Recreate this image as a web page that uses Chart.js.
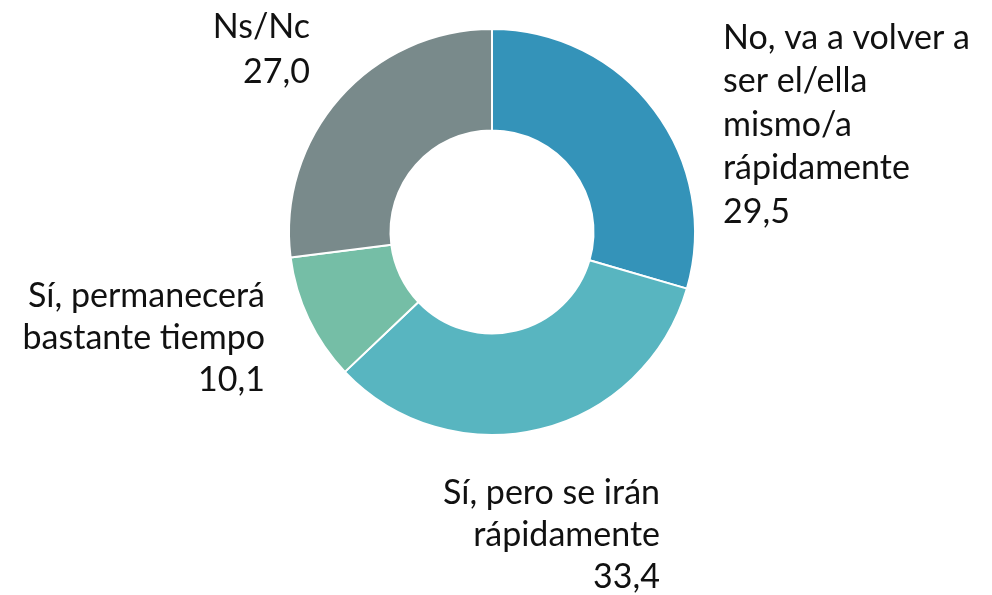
<!DOCTYPE html>
<html>
<head>
<meta charset="utf-8">
<script src="https://cdn.jsdelivr.net/npm/chart.js@4/dist/chart.umd.min.js"></script>
<style>
html,body{margin:0;padding:0;background:#fff;}
#wrap{width:992px;height:595px;position:relative;}
</style>
</head>
<body>
<div id="wrap"><canvas id="c" width="992" height="595"></canvas></div>
<script>
const categories = [
  ["No, va a volver a", "ser el/ella", "mismo/a", "rápidamente"],
  ["Sí, pero se irán", "rápidamente"],
  ["Sí, permanecerá", "bastante tiempo"],
  ["Ns/Nc"]
];
const values = [29.5, 33.4, 10.1, 27.0];
const valueLabels = ["29,5", "33,4", "10,1", "27,0"];
const colors = ["#3493b9", "#58b5c0", "#75bea6", "#798a8b"];

// label anchor placement (relative to chart centre), alignment per slice
const labelPlace = [
  {dx: 231, dy: -194, align: "left", lh: 43.5},
  {dx: 168, dy: 261, align: "right", lh: 42},
  {dx: -227, dy: 64, align: "right", lh: 42},
  {dx: -182, dy: -205, align: "right", lh: 45}
];

const labelPlugin = {
  id: "sliceLabels",
  afterDraw(chart) {
    const ctx = chart.ctx;
    const meta = chart.getDatasetMeta(0);
    const arc = meta.data[0];
    const cx = arc.x, cy = arc.y;
    ctx.save();
    ctx.fillStyle = "#111";
    ctx.font = "34px Lato, 'Open Sans', sans-serif";
    ctx.textBaseline = "middle";
    categories.forEach((lines, i) => {
      const p = labelPlace[i];
      ctx.textAlign = p.align;
      const all = lines.concat([valueLabels[i]]);
      all.forEach((t, j) => {
        ctx.fillText(t, cx + p.dx, cy + p.dy + j * p.lh);
      });
    });
    ctx.restore();
  }
};

new Chart(document.getElementById("c"), {
  type: "doughnut",
  data: {
    labels: categories.map(l => l.join(" ")),
    datasets: [{
      data: values,
      backgroundColor: colors,
      borderColor: "#ffffff",
      borderWidth: 2
    }]
  },
  options: {
    responsive: false,
    animation: false,
    cutout: "50%",
    layout: {padding: {top: 25, bottom: 156, left: 288, right: 296}},
    plugins: {legend: {display: false}, tooltip: {enabled: false}}
  },
  plugins: [labelPlugin]
});
</script>
</body>
</html>
